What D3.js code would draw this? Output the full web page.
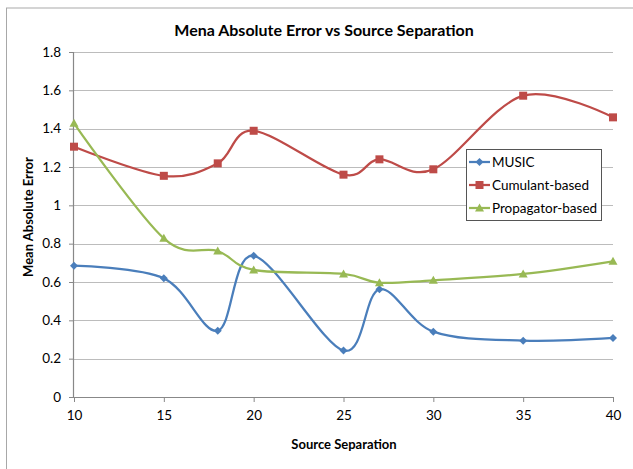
<!DOCTYPE html>
<html>
<head>
<meta charset="utf-8">
<script src="https://cdn.jsdelivr.net/npm/d3@7"></script>
<style>
  body { margin: 0; background: #fff; }
  text { font-family: Lato, "Open Sans", sans-serif; fill: #000; }
</style>
</head>
<body>
<script>
// data
var separations = [10, 15, 18, 20, 25, 27, 30, 35, 40];
var musicErr      = [0.685, 0.619, 0.346, 0.737, 0.242, 0.562, 0.341, 0.294, 0.308];
var cumulantErr   = [1.306, 1.154, 1.219, 1.389, 1.160, 1.240, 1.188, 1.572, 1.459];
var propagatorErr = [1.428, 0.828, 0.762, 0.663, 0.642, 0.596, 0.609, 0.642, 0.708];
var xTicks = [10, 15, 20, 25, 30, 35, 40];
var yTicks = [0, 0.2, 0.4, 0.6, 0.8, 1, 1.2, 1.4, 1.6, 1.8];

var series = [
  {name: "MUSIC", values: musicErr, color: "#4a7ebb", marker: "diamond"},
  {name: "Cumulant-based", values: cumulantErr, color: "#be4b48", marker: "square"},
  {name: "Propagator-based", values: propagatorErr, color: "#98b954", marker: "triangle"}
];

var W = 633, H = 469;
var margin = {top: 52, right: 20, bottom: 72, left: 74},
    width = 613 - margin.left,
    height = 397 - margin.top;

var svg = d3.select("body").append("svg")
    .attr("width", W)
    .attr("height", H);

// chart frame (only top and left edges are visible)
svg.append("line")
    .attr("x1", 6).attr("x2", W).attr("y1", 8).attr("y2", 8)
    .attr("stroke", "#d4d4d4").attr("stroke-width", 2);
svg.append("line")
    .attr("x1", 6.5).attr("x2", 6.5).attr("y1", 8).attr("y2", H)
    .attr("stroke", "#a8a8a8");

var g = svg.append("g")
    .attr("transform", "translate(" + margin.left + "," + margin.top + ")");

var x = d3.scaleLinear().domain([10, 40]).range([0, width]);
var y = d3.scaleLinear().domain([0, 1.8]).range([height, 0]);

// gridlines
g.selectAll(".grid")
    .data(yTicks.slice(1))
  .enter().append("line")
    .attr("x1", 0).attr("x2", width)
    .attr("y1", function(d) { return Math.round(y(d)) + 0.5; })
    .attr("y2", function(d) { return Math.round(y(d)) + 0.5; })
    .attr("stroke", "#bcbcbc")
    .attr("stroke-width", 1.2);

// axes
var xAxis = g.append("g")
    .attr("transform", "translate(0," + height + ")")
    .call(d3.axisBottom(x).tickValues(xTicks).tickSize(5).tickPadding(8).tickFormat(d3.format("d")));
var yAxis = g.append("g")
    .call(d3.axisLeft(y).tickValues(yTicks).tickSize(5).tickPadding(8).tickFormat(function(d) { return d3.format("")(+d.toFixed(1)); }));

[xAxis, yAxis].forEach(function(a) {
  a.select(".domain").attr("stroke", "#888").attr("stroke-width", 1.2);
  a.selectAll(".tick line").attr("stroke", "#888");
  a.selectAll("text").style("font-size", "13.5px").style("font-family", "Lato, sans-serif").attr("fill", "#000");
});
xAxis.select(".domain").attr("d", "M0,0.5H" + width);
yAxis.select(".domain").attr("d", "M-0.5,0V" + height);

// lines
var line = d3.line()
    .x(function(d, i) { return x(separations[i]); })
    .y(function(d) { return y(d); })
    .curve(d3.curveCatmullRom.alpha(0));

function drawMarker(sel, type, color, cx, cy) {
  if (type === "square") {
    sel.append("rect").attr("x", cx - 4).attr("y", cy - 4).attr("width", 8).attr("height", 8).attr("fill", color);
  } else if (type === "diamond") {
    sel.append("path").attr("d", "M" + cx + "," + (cy - 4) + "L" + (cx + 4) + "," + cy + "L" + cx + "," + (cy + 4) + "L" + (cx - 4) + "," + cy + "Z").attr("fill", color);
  } else {
    sel.append("path").attr("d", "M" + cx + "," + (cy - 4.5) + "L" + (cx + 4.5) + "," + (cy + 3.5) + "L" + (cx - 4.5) + "," + (cy + 3.5) + "Z").attr("fill", color);
  }
}

series.forEach(function(s) {
  g.append("path")
      .datum(s.values)
      .attr("fill", "none")
      .attr("stroke", s.color)
      .attr("stroke-width", 2.25)
      .attr("d", line);
  var mg = g.append("g");
  s.values.forEach(function(v, i) {
    drawMarker(mg, s.marker, s.color, x(separations[i]), y(v));
  });
});

// title and axis labels
svg.append("text")
    .attr("x", 324).attr("y", 36)
    .attr("text-anchor", "middle")
    .style("font-size", "16px").style("font-weight", "bold")
    .text("Mena Absolute Error vs Source Separation");

svg.append("text")
    .attr("x", 344).attr("y", 449)
    .attr("text-anchor", "middle")
    .style("font-size", "13px").style("font-weight", "bold")
    .text("Source Separation");

svg.append("text")
    .attr("transform", "translate(33,217) rotate(-90)")
    .attr("text-anchor", "middle")
    .style("font-size", "13px").style("font-weight", "bold")
    .text("Mean Absolute  Error");

// legend
var legend = svg.append("g").attr("transform", "translate(466,149)");
legend.append("rect")
    .attr("x", 0.5).attr("y", 0.5)
    .attr("width", 135).attr("height", 71)
    .attr("fill", "#fff")
    .attr("stroke", "#555");
series.forEach(function(s, i) {
  var ly = 13 + i * 23;
  legend.append("line")
      .attr("x1", 3).attr("x2", 24)
      .attr("y1", ly).attr("y2", ly)
      .attr("stroke", s.color).attr("stroke-width", 2.25);
  drawMarker(legend, s.marker, s.color, 13.5, ly);
  legend.append("text")
      .attr("x", 26).attr("y", ly + 4.5)
      .style("font-size", "13.5px")
      .text(s.name);
});
</script>
</body>
</html>
